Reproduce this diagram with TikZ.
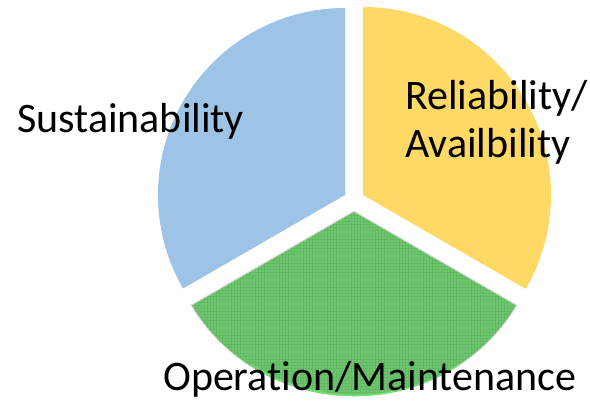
\documentclass[tikz,border=0pt]{standalone}
\usepackage{fontspec}
\setmainfont[RawFeature={-liga;-clig;-calt}]{Carlito}
\usetikzlibrary{patterns}
\definecolor{sliceblue}{RGB}{157,195,230}
\definecolor{sliceyellow}{RGB}{255,217,102}
\definecolor{slicegreen}{RGB}{112,198,112}
\definecolor{gridgreen}{RGB}{80,170,80}
\definecolor{rimgreen}{RGB}{110,225,110}
\begin{document}
\begin{tikzpicture}[x=1pt,y=1pt,
  label/.style={font=\fontsize{42}{48}\selectfont, inner sep=0pt, anchor=base west, text=black}]
\useasboundingbox (0,0) rectangle (590,410);
\fill[white] (0,0) rectangle (590,410);
% exploded pie: three 120-degree slices
\coordinate (cb) at (345,215);
\coordinate (cy) at (363,215);
\coordinate (cg) at (354,198);
\fill[sliceblue] (cb) -- ++(90:187) arc[start angle=90, end angle=210, radius=187] -- cycle;
\fill[sliceyellow] (cy) -- ++(90:188) arc[start angle=90, end angle=-30, radius=188] -- cycle;
% lower slice with soft rim and fine grid texture
\fill[gray!25] (cg) ++(0,1.5) -- ++(210:189) arc[start angle=210, end angle=330, x radius=189, y radius=183] -- cycle;
\fill[slicegreen] (cg) -- ++(210:187) arc[start angle=210, end angle=330, x radius=187, y radius=181] -- cycle;
\fill[pattern=grid, pattern color=gridgreen, opacity=0.35] (cg) -- ++(210:187) arc[start angle=210, end angle=330, x radius=187, y radius=181] -- cycle;
\draw[rimgreen, line width=1.5pt] (cg) ++(236:184) arc[start angle=236, end angle=304, x radius=186, y radius=180];
% slice labels
\node[label] (sus) at (17,277) {Sustainability};
\node[label] (rel) at (405,300) {Reliability/};
\node[label] (ava) at (405,252) {Availbility};
\node[label] (ops) at (163,19) {Operation/Maintenance};
\end{tikzpicture}
\end{document}
